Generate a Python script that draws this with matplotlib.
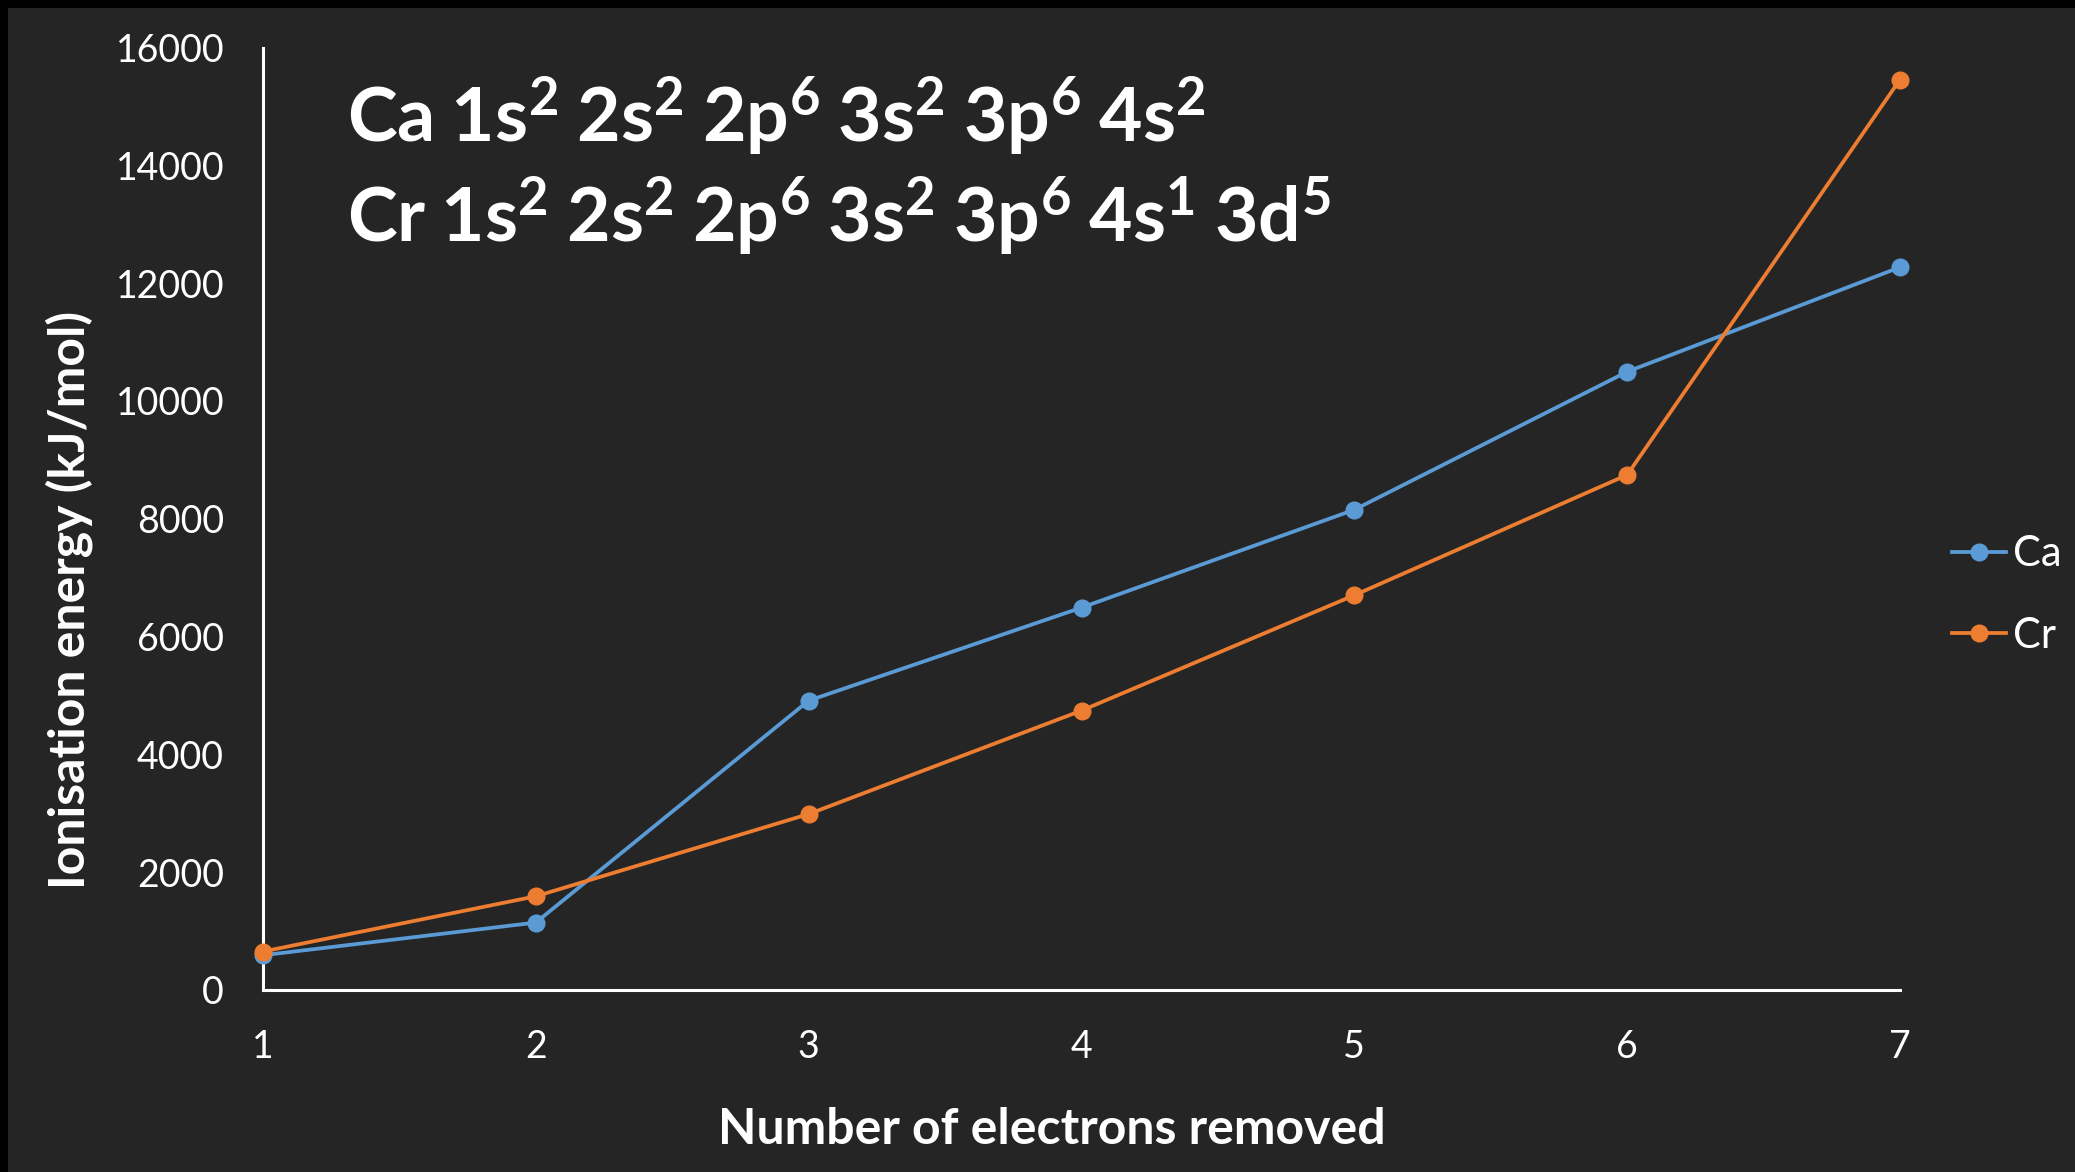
import matplotlib
matplotlib.use("Agg")
import matplotlib.pyplot as plt
from matplotlib.patches import Rectangle
from matplotlib.lines import Line2D

# Successive ionisation energies (kJ/mol)
electrons_removed = [1, 2, 3, 4, 5, 6, 7]
ca_energy = [590, 1145, 4912, 6491, 8153, 10496, 12270]
cr_energy = [653, 1591, 2987, 4743, 6702, 8744, 15455]
series_names = ["Ca", "Cr"]
y_ticks = [0, 2000, 4000, 6000, 8000, 10000, 12000, 14000, 16000]

# Electron configurations shown in the heading
ca_config = [("1s", 2), ("2s", 2), ("2p", 6), ("3s", 2), ("3p", 6), ("4s", 2)]
cr_config = [("1s", 2), ("2s", 2), ("2p", 6), ("3s", 2), ("3p", 6), ("4s", 1), ("3d", 5)]

BG = "#252525"
BLUE = "#5B9BD5"
ORANGE = "#ED7D31"
FG = "#FFFFFF"

plt.rcParams["font.family"] = ["Lato", "DejaVu Sans"]
plt.rcParams["mathtext.fontset"] = "custom"
plt.rcParams["mathtext.rm"] = "Lato"
plt.rcParams["mathtext.bf"] = "Lato:bold"

W, H = 2075, 1172
fig = plt.figure(figsize=(W / 100, H / 100), dpi=100, facecolor="black")
fig.patches.append(Rectangle((8 / W, 0), 1, 1 - 8 / H, transform=fig.transFigure,
                             facecolor=BG, edgecolor="none", zorder=-10))

ax = fig.add_axes([263 / W, 1 - 990 / H, (1900 - 263) / W, (990 - 47.5) / H])
ax.set_facecolor("none")

LW, MS = 2.7, 12
ax.plot(electrons_removed, ca_energy, color=BLUE, lw=LW, marker="o", ms=MS,
        label=series_names[0], clip_on=False, zorder=3)
ax.plot(electrons_removed, cr_energy, color=ORANGE, lw=LW, marker="o", ms=MS,
        label=series_names[1], clip_on=False, zorder=3)

ax.set_xlim(1, 7)
ax.set_ylim(0, 16000)
ax.set_xticks(electrons_removed)
ax.set_yticks(y_ticks)
ax.tick_params(axis="both", length=0, colors=FG, labelsize=27)
ax.tick_params(axis="y", pad=28)
ax.tick_params(axis="x", pad=28)

for side in ["top", "right"]:
    ax.spines[side].set_visible(False)
for side in ["left", "bottom"]:
    ax.spines[side].set_color(FG)
    ax.spines[side].set_linewidth(2.2)

ax.set_xlabel("Number of electrons removed", color=FG, fontsize=36,
              fontweight="bold")
ax.xaxis.label.set(va="center", ha="center")
ax.xaxis.set_label_coords(0.482, -0.1475)

ax.set_ylabel("Ionisation energy (kJ/mol)", color=FG, fontsize=36,
              fontweight="bold")
ax.yaxis.label.set(va="center", ha="center", rotation_mode="default")
ax.yaxis.set_label_coords(-0.1185, 0.4138)


def config_text(symbol, config):
    parts = [symbol] + [f"{orb}^{{{n}}}" for orb, n in config]
    return r"$\mathbf{" + r"\:".join(parts) + "}$"


fig.text(347 / W, 1 - 143 / H, config_text("Ca", ca_config), color=FG,
         fontsize=54, va="baseline", ha="left")
fig.text(347 / W, 1 - 242 / H, config_text("Cr", cr_config), color=FG,
         fontsize=54, va="baseline", ha="left")

handles = [Line2D([], [], color=BLUE, lw=LW, marker="o", ms=MS),
           Line2D([], [], color=ORANGE, lw=LW, marker="o", ms=MS)]
leg = fig.legend(handles, series_names, loc="center left",
                 bbox_to_anchor=(1952 / W, 1 - 595 / H), frameon=False,
                 fontsize=30, labelcolor=FG, handlelength=1.3,
                 handletextpad=0.17, labelspacing=1.05,
                 borderpad=0, borderaxespad=0)

fig.savefig("out.png", dpi=100, facecolor="black")
